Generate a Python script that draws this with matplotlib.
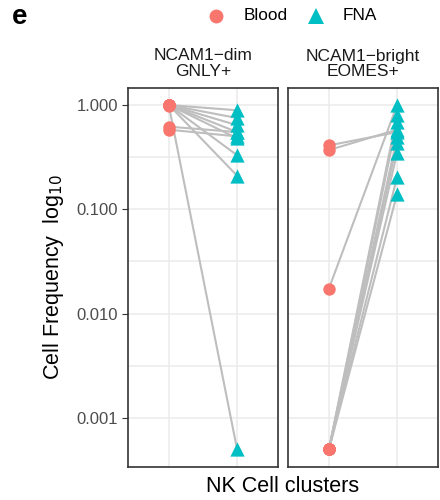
import numpy as np
import matplotlib.pyplot as plt
from matplotlib.lines import Line2D

plt.rcParams['font.family'] = ['Liberation Sans', 'DejaVu Sans']

# cell frequency per donor, blood and FNA, for each NK cluster
panels = ['NCAM1\u2212dim\nGNLY+', 'NCAM1\u2212bright\nEOMES+']
tissues = ['Blood', 'FNA']
dim_blood = [1.0, 1.0, 1.0, 1.0, 1.0, 1.0, 1.0, 0.98, 0.62, 0.58]
dim_fna = [0.89, 0.75, 0.64, 0.55, 0.48, 0.33, 0.21, 0.0005, 0.55, 0.50]
bright_blood = [0.0005, 0.0005, 0.0005, 0.0005, 0.0005, 0.0005, 0.0005, 0.0174, 0.41, 0.37]
bright_fna = [0.14, 0.205, 0.35, 0.43, 0.49, 0.69, 0.80, 1.0, 0.55, 0.58]
yticks = [0.001, 0.01, 0.1, 1.0]
ytick_labels = ['0.001', '0.010', '0.100', '1.000']

blood_col = '#F8766D'
fna_col = '#00BFC4'

fig = plt.figure(figsize=(4.4, 5.0), dpi=100)
ax1 = fig.add_axes([128/440, 1-467/500, 150/440, 379/500])
ax2 = fig.add_axes([288/440, 1-467/500, 150/440, 379/500])

data = [(dim_blood, dim_fna), (bright_blood, bright_fna)]
for ax, title, (b, f) in zip([ax1, ax2], panels, data):
    for bv, fv in zip(b, f):
        ax.plot([1, 2], [bv, fv], color='#BEBEBE', lw=1.5, zorder=2)
    ax.scatter(np.ones(len(b)), b, s=80, marker='o', color=blood_col, zorder=3, linewidths=0)
    ax.scatter(np.full(len(f), 2), f, s=105, marker='^', color=fna_col, zorder=3, linewidths=0)
    ax.set_yscale('log')
    ax.set_ylim(10**-3.47, 10**0.163)
    ax.set_xlim(0.4, 2.6)
    ax.set_yticks(yticks)
    ax.set_yticks([10**-2.5, 10**-1.5, 10**-0.5], minor=True)
    ax.set_xticks([1, 2])
    ax.grid(True, which='both', color='#EBEBEB', lw=1.1, zorder=0)
    ax.set_axisbelow(True)
    ax.tick_params(axis='x', length=0, labelbottom=False)
    ax.tick_params(axis='y', which='minor', length=0, labelleft=False)
    for s in ax.spines.values():
        s.set_color('#333333')
        s.set_linewidth(1.2)
    ax.set_title(title, fontsize=12.5, color='#1A1A1A', pad=9, linespacing=1.0)

ax1.set_yticklabels(ytick_labels)
ax1.tick_params(axis='y', which='major', length=4, color='#333333', labelsize=12, labelcolor='#4D4D4D', pad=3)
ax2.tick_params(axis='y', which='major', length=0, labelleft=False)

ax1.set_ylabel('Cell Frequency  log$_{10}$', fontsize=15.5, labelpad=8)
fig.text(283/440, 1-487/500, 'NK Cell clusters', fontsize=15.5, ha='center', va='center')

fig.text(12/440, 1-17/500, 'e', fontsize=20, fontweight='bold', ha='left', va='center')

# legend drawn by hand at the top
leg_y = 1 - 16/500
fig.add_artist(Line2D([216/440], [leg_y], marker='o', ls='', color=blood_col, markersize=10,
                      markeredgewidth=0, transform=fig.transFigure))
fig.text(244/440, leg_y, tissues[0], fontsize=12.4, ha='left', va='center')
fig.add_artist(Line2D([316/440], [leg_y], marker='^', ls='', color=fna_col, markersize=11,
                      markeredgewidth=0, transform=fig.transFigure))
fig.text(343/440, leg_y, tissues[1], fontsize=12.4, ha='left', va='center')

fig.savefig('out.png', dpi=100)
